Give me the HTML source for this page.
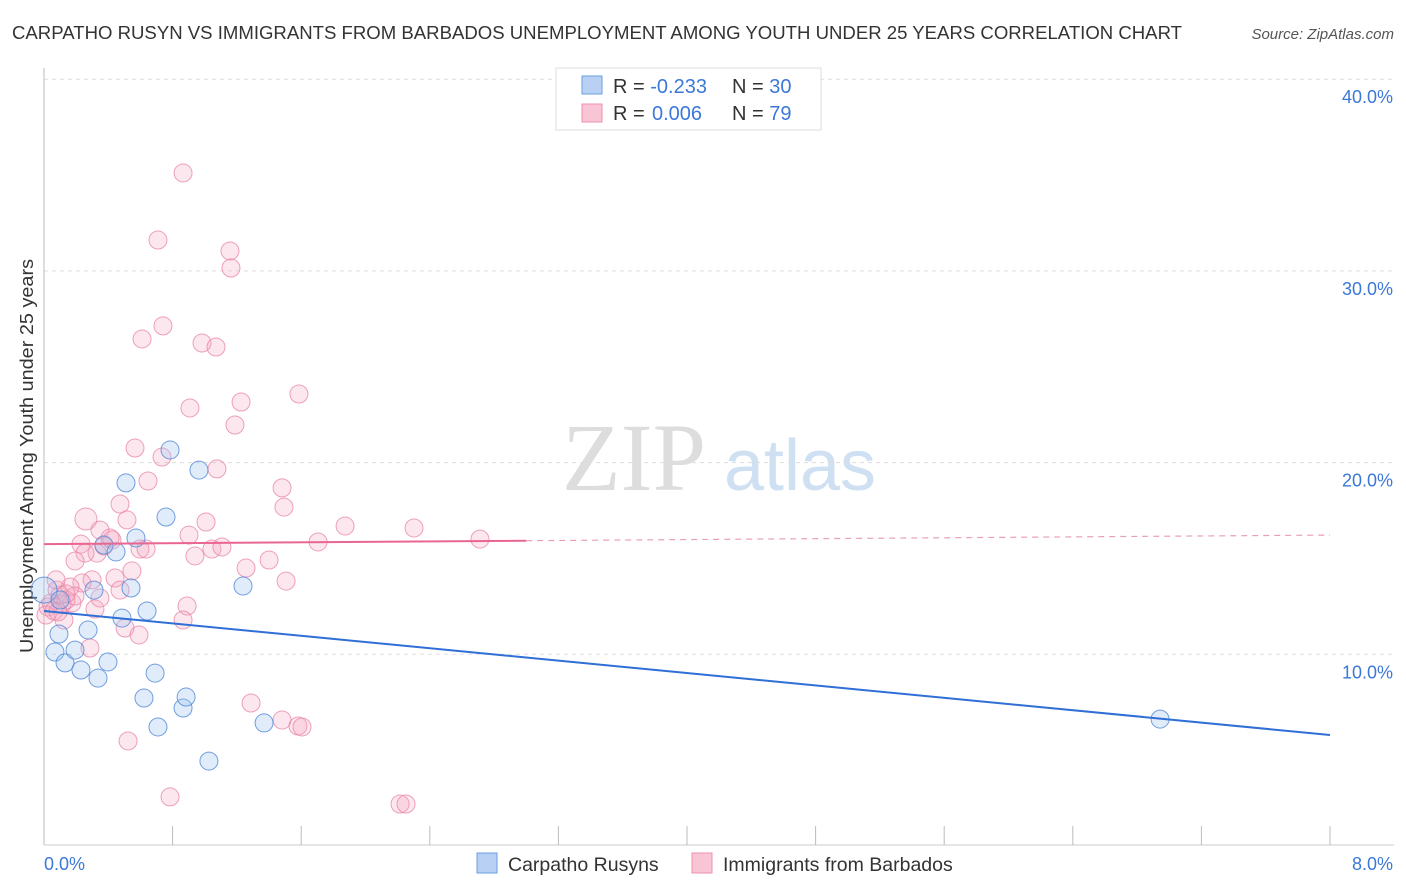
<!DOCTYPE html>
<html><head><meta charset="utf-8"><style>
body{margin:0;background:#fff;font-family:"Liberation Sans",sans-serif}
svg{display:block}
</style></head><body>
<svg width="1406" height="892" xmlns="http://www.w3.org/2000/svg">
<text x="12" y="39" font-size="18" fill="#333" textLength="1170" lengthAdjust="spacingAndGlyphs">CARPATHO RUSYN VS IMMIGRANTS FROM BARBADOS UNEMPLOYMENT AMONG YOUTH UNDER 25 YEARS CORRELATION CHART</text>
<text x="1394" y="39" font-size="15" fill="#555" font-style="italic" text-anchor="end">Source: ZipAtlas.com</text>
<g>
<text x="634" y="490" font-size="96" fill="#ddd" font-family="Liberation Serif,serif" text-anchor="middle">ZIP</text>
<text x="800" y="490" font-size="72" fill="#cfe0f3" text-anchor="middle">atlas</text>
</g>
<g id="grid"></g>
<line x1="44" y1="68" x2="44" y2="845" stroke="#bbb"/>
<line x1="44" y1="845" x2="1394" y2="845" stroke="#ccc"/>
<g id="xt"></g>
<text x="33" y="456" font-size="18" fill="#333" text-anchor="middle" textLength="394" lengthAdjust="spacingAndGlyphs" transform="rotate(-90 33 456)">Unemployment Among Youth under 25 years</text>
<text x="44" y="870" font-size="18" fill="#3b78d8">0.0%</text>
<text x="1393" y="870" font-size="18" fill="#3b78d8" text-anchor="end">8.0%</text>
<g id="pts"></g>
<g id="trend"></g>
<g>
<rect x="556" y="68" width="265" height="62" fill="#fff" stroke="#ddd"/>
<rect x="582" y="76" width="20" height="18" fill="#b7d0f3" stroke="#6e9fe0"/>
<rect x="582" y="104" width="20" height="18" fill="#f9c4d4" stroke="#ee8fb0"/>
<text x="613" y="93" font-size="20" fill="#333">R = <tspan fill="#3b78d8">-0.233</tspan><tspan x="732">N = </tspan><tspan fill="#3b78d8">30</tspan></text>
<text x="613" y="120" font-size="20" fill="#333">R = <tspan fill="#3b78d8" x="652">0.006</tspan><tspan x="732">N = </tspan><tspan fill="#3b78d8">79</tspan></text>
</g>
<g>
<rect x="477" y="853" width="20" height="20" fill="#b7d0f3" stroke="#6e9fe0"/>
<text x="508" y="871" font-size="19.5" fill="#333">Carpatho Rusyns</text>
<rect x="692" y="853" width="20" height="20" fill="#f9c4d4" stroke="#ee8fb0"/>
<text x="723" y="871" font-size="19.5" fill="#333">Immigrants from Barbados</text>
</g>
</svg>
<script>
const yTicks=[10,20,30,40];
const xTickCount=10;
const blueX=[0,0.068,0.093,0.131,0.193,0.230,0.274,0.311,0.336,0.373,0.398,0.448,0.485,0.510,0.541,0.572,0.622,0.641,0.691,0.709,0.759,0.784,0.865,0.884,0.964,1.026,1.238,1.369,6.943,0.100];
const blueY=[13.35,10.12,11.06,9.55,10.22,9.18,11.27,13.35,8.76,15.70,9.60,15.34,11.89,18.94,13.46,16.07,7.72,12.26,9.02,6.21,17.16,20.66,7.20,7.77,19.61,4.43,13.56,6.42,6.62,12.83];
const pinkX=[0.865,0.709,1.157,1.163,0.740,0.610,0.983,1.070,1.586,0.908,1.226,1.188,0.566,0.734,1.076,0.647,1.481,1.493,0.473,0.261,1.008,0.348,0.516,1.873,2.302,2.712,1.705,0.902,0.423,0.230,0.373,0.330,0.597,0.635,1.045,1.107,0.939,0.255,0.193,1.400,0.547,1.257,0.442,0.299,0.236,1.506,0.162,0.081,0.100,0.174,0.044,0.112,0.025,0.062,0.890,0.317,0.124,0.865,0.012,0.504,0.591,0.286,1.288,1.481,1.580,1.605,0.523,0.784,2.215,2.252,0.473,0.075,0.348,0.137,0.193,0.411,0.087,0.137];
const pinkY=[35.11,31.61,31.04,30.15,27.13,26.45,26.24,26.03,23.58,22.85,23.16,21.96,20.76,20.29,19.67,19.04,18.68,17.68,17.84,17.06,16.90,16.48,17.01,16.69,16.59,16.01,15.86,16.22,15.96,15.75,15.65,15.28,15.49,15.49,15.49,15.60,15.13,15.28,14.87,14.92,14.35,14.50,13.98,13.88,13.72,13.82,13.51,13.35,13.09,12.68,12.68,12.62,12.47,12.26,12.52,12.36,11.79,11.79,12.05,11.37,11.01,10.33,7.46,6.57,6.26,6.21,5.48,2.56,2.19,2.19,13.35,13.88,12.94,12.83,13.04,16.07,12.21,13.15];
const blueTrend=[12.26,5.79];
const pinkTrend=[15.75,16.22];
const pinkSolidEnd=3.0;
const NS="http://www.w3.org/2000/svg";
const X=v=>44+v/8*1286;
const Y=v=>846-v*19.17;
function mk(t,a,p){const e=document.createElementNS(NS,t);for(const k in a)e.setAttribute(k,a[k]);p.appendChild(e);return e;}
const grid=document.getElementById('grid');
yTicks.forEach(t=>{
 const l=mk('line',{x1:44,x2:1394,y1:Y(t),y2:Y(t),stroke:'#ddd','stroke-dasharray':'4,4'},grid);
 
 
 const tx=mk('text',{x:1393,y:Y(t)+24,'font-size':18,fill:'#3b78d8','text-anchor':'end'},grid);
 tx.textContent=t.toFixed(1)+'%';
 
 
});
const xt=document.getElementById('xt');
for(let i=1;i<=xTickCount;i++){
 const l=mk('line',{x1:X(i*0.8),x2:X(i*0.8),y1:826,y2:845,stroke:'#bbb'},xt);
 
 
}
const pts=document.getElementById('pts');
const pinkBig=[19];
const blueBig=[0];
pinkX.forEach((x,i)=>{
 const c=mk('circle',{cx:X(x),cy:Y(pinkY[i]),r:pinkBig.includes(i)?11:9,fill:'rgba(246,170,195,0.28)',stroke:'rgba(232,130,165,0.75)','stroke-width':1},pts);
 
 
});
blueX.forEach((x,i)=>{
 const c=mk('circle',{cx:X(x),cy:Y(blueY[i]),r:blueBig.includes(i)?13:9,fill:'rgba(160,195,240,0.32)',stroke:'rgba(80,135,215,0.8)','stroke-width':1},pts);
 
 
});
const tr=document.getElementById('trend');
const bl=mk('line',{x1:X(0),y1:Y(blueTrend[0]),x2:X(8),y2:Y(blueTrend[1]),stroke:'#2f6fd6','stroke-width':2},tr);


const pm=pinkTrend[0]+(pinkTrend[1]-pinkTrend[0])*pinkSolidEnd/8;
const pl=mk('line',{x1:X(0),y1:Y(pinkTrend[0]),x2:X(pinkSolidEnd),y2:Y(pm),stroke:'#e8668f','stroke-width':2},tr);


const pd=mk('line',{x1:X(pinkSolidEnd),y1:Y(pm),x2:X(8),y2:Y(pinkTrend[1]),stroke:'#e8a0b8','stroke-width':1.2,'stroke-dasharray':'6,5'},tr);


</script>
</body></html>
